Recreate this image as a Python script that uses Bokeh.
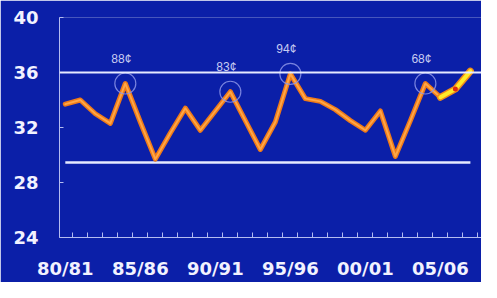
from bokeh.plotting import figure
from bokeh.models import Range1d, FixedTicker, Span, ColumnDataSource
from bokeh.embed import file_html
from bokeh.resources import INLINE
from bokeh.core.properties import value

seasons = ["80/81", "81/82", "82/83", "83/84", "84/85", "85/86", "86/87", "87/88",
           "88/89", "89/90", "90/91", "91/92", "92/93", "93/94", "94/95", "95/96",
           "96/97", "97/98", "98/99", "99/00", "00/01", "01/02", "02/03", "03/04",
           "04/05", "05/06", "06/07", "07/08"]
prices = [33.7, 34.0, 33.0, 32.3, 35.2, 32.4, 29.7, 31.6, 33.4, 31.8,
          33.2, 34.6, 32.5, 30.4, 32.4, 35.9, 34.1, 33.9, 33.3, 32.5,
          31.8, 33.2, 29.9, 32.5, 35.2, 34.2, 34.8, 36.1]
y_ticks = [24, 28, 32, 36, 40]
label_step = 5
peak_idx = [4, 11, 15, 24]
peak_text = ["88¢", "83¢", "94¢", "68¢"]
upper_ref = 36
lower_ref = 29.45
forecast_start = 25
marker_idx = 26

BG = "#0b1fa8"
AXIS = "#b4bcf0"

x = list(range(len(seasons)))

p = figure(width=481, height=282, output_backend="svg", toolbar_location=None,
           x_range=Range1d(-0.387, 27.74), y_range=Range1d(24, 40),
           min_border_left=59, min_border_right=0, min_border_top=17,
           min_border_bottom=45,
           background_fill_color=BG, border_fill_color=BG,
           outline_line_color=None)
p.grid.visible = False

# axes
xticks = x[::label_step]
p.xaxis.ticker = FixedTicker(ticks=xticks,
                             minor_ticks=[i - 0.5 for i in range(len(seasons) + 1)])
p.xaxis.major_label_overrides = {i: seasons[i] for i in xticks}
p.xaxis.major_tick_line_color = None
p.xaxis.minor_tick_in = 5
p.xaxis.minor_tick_out = 0
p.xaxis.minor_tick_line_color = AXIS
p.xaxis.axis_line_color = AXIS
p.xaxis.major_label_standoff = 14
p.xaxis.major_label_text_font = "DejaVu Sans"
p.xaxis.major_label_text_font_style = "bold"
p.xaxis.major_label_text_font_size = "18px"
p.xaxis.major_label_text_color = "#f2f2ff"

p.yaxis.ticker = FixedTicker(ticks=y_ticks)
p.yaxis.major_tick_in = 4
p.yaxis.major_tick_out = 0
p.yaxis.major_tick_line_color = AXIS
p.yaxis.minor_tick_line_color = None
p.yaxis.axis_line_color = AXIS
p.yaxis.major_label_standoff = 21
p.yaxis.major_label_text_font = "DejaVu Sans"
p.yaxis.major_label_text_font_style = "bold"
p.yaxis.major_label_text_font_size = "18px"
p.yaxis.major_label_text_color = "#f2f2ff"

# reference lines
p.add_layout(Span(location=upper_ref, dimension="width",
                  line_color="#e6eaff", line_width=2))
p.segment(x0=[x[0]], y0=[lower_ref], x1=[x[-1]], y1=[lower_ref],
          line_color="#e6eaff", line_width=2.5)

# historical series
hx, hy = x[:forecast_start + 1], prices[:forecast_start + 1]
p.line(hx, hy, line_color="#ef7a18", line_width=5, line_join="round", line_cap="round")
p.line(hx, hy, line_color="#ffa646", line_width=2, line_join="round", line_cap="round")

# forecast segment
fx, fy = x[forecast_start:], prices[forecast_start:]
p.line(fx, fy, line_color="#f08a1a", line_width=7, line_join="round", line_cap="round")
p.line(fx, fy, line_color="#ffea28", line_width=4, line_join="round", line_cap="round")
p.scatter([x[marker_idx]], [prices[marker_idx]], size=5, fill_color="#e02a10",
          line_color=None)

# peak circles and labels
src = ColumnDataSource(dict(x=[x[i] for i in peak_idx],
                            y=[prices[i] for i in peak_idx],
                            t=peak_text))
p.scatter("x", "y", source=src, size=21, fill_color=None,
          line_color="#8c94e8", line_width=1.2, line_alpha=0.85)
p.text("x", "y", text="t", source=src, x_offset=-4, y_offset=-25,
       text_align="center", text_baseline="middle",
       text_font=value("Liberation Sans"), text_font_size="12px",
       text_color="#c8ccf2")

open("out.html", "w").write(file_html(p, INLINE))
